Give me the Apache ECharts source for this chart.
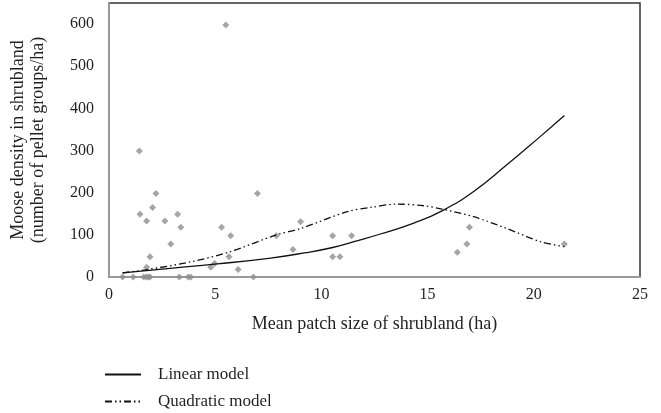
<!DOCTYPE html>
<html>
<head>
<meta charset="utf-8">
<script src="https://cdn.jsdelivr.net/npm/echarts@6/dist/echarts.min.js"></script>
<style>html,body{margin:0;padding:0;background:#fff;}#c{width:661px;height:413px;}</style>
</head>
<body>
<div id="c"></div>
<script>
// Observed data (mean patch size ha, moose density)
const obsX = [0.64,1.14,1.63,1.75,1.85,1.93,3.31,3.73,3.85,6.8,
  1.43,1.46,1.77,1.77,1.93,2.05,2.21,2.63,2.91,3.23,3.38,
  4.79,4.97,5.3,5.5,5.65,5.73,6.08,6.99,7.88,8.66,9.02,
  10.53,10.53,10.87,11.42,16.4,16.85,16.97,21.44];
const obsY = [0,0,0,0,0,0,0,0,0,0,
  299,149,133,23,48,165,198,133,78,149,118,
  23,32,118,598,48,98,18,198,98,65,131,
  98,48,48,98,59,78,118,78];
// Linear model curve
const linX = [0.64,2.76,5.1,7.61,9.18,10.53,11.53,12.78,14.35,15.68,17.17,18.73,20.3,21.44];
const linY = [10,20,31,45,57,70,84,102,128,157,203,266,333,383];
// Quadratic model curve
const quadX = [0.64,1.74,3.85,5.65,7.88,9.02,11.22,12.31,13.57,14.82,15.68,17.17,18.73,20.3,21.44];
const quadY = [10,17,36,59,100,115,155,165,173,169,161,143,115,84,72];
const xTicks = [0,5,10,15,20,25];
const yTicks = [0,100,200,300,400,500,600];

const pairs = (xs, ys) => xs.map((x, i) => [x, ys[i]]);
const serif = "'Liberation Serif','DejaVu Serif',serif";
const txt = '#231f20';

const chart = echarts.init(document.getElementById('c'));
chart.setOption({
  animation: false,
  textStyle: {fontFamily: serif},
  grid: {left: 108, right: 21, top: 3, bottom: 136, show: true, borderColor: '#333', borderWidth: 1.5},
  xAxis: {
    type: 'value', min: xTicks[0], max: xTicks[xTicks.length-1], interval: 5,
    name: 'Mean patch size of shrubland (ha)', nameLocation: 'middle', nameGap: 38,
    nameTextStyle: {fontFamily: serif, fontSize: 18, color: txt},
    axisLine: {show: true, lineStyle: {color: '#999', width: 2}},
    axisTick: {show: false}, splitLine: {show: false},
    axisLabel: {fontFamily: serif, fontSize: 16, color: txt, margin: 10}
  },
  yAxis: {
    type: 'value', min: 0, max: 650, interval: 100,
    name: 'Moose density in shrubland\n(number of pellet groups/ha)', nameLocation: 'middle', nameGap: 61,
    nameTextStyle: {fontFamily: serif, fontSize: 18, color: txt, lineHeight: 20},
    axisLine: {show: true, lineStyle: {color: '#999', width: 2}},
    axisTick: {show: false}, splitLine: {show: false},
    axisLabel: {fontFamily: serif, fontSize: 16, color: txt, margin: 15,
      formatter: v => yTicks.indexOf(v) >= 0 ? String(v) : ''}
  },
  legend: {
    orient: 'vertical', left: 104, top: 366, padding: 0, itemWidth: 36, itemHeight: 14, itemGap: 10,
    itemStyle: {opacity: 0},
    textStyle: {fontFamily: serif, fontSize: 17, color: txt, padding: [0,0,0,12]},
    data: ['Linear model', 'Quadratic model']
  },
  series: [
    {type: 'scatter', name: 'Observed', data: pairs(obsX, obsY), symbol: 'diamond', symbolSize: 7,
     itemStyle: {color: '#8e8e8e'}, z: 2},
    {type: 'line', name: 'Linear model', data: pairs(linX, linY), smooth: 0.5, symbol: 'none',
     itemStyle: {color: '#111'},
     lineStyle: {color: '#111', width: 1.3, type: 'solid'}, z: 3},
    {type: 'line', name: 'Quadratic model', data: pairs(quadX, quadY), smooth: 0.3, symbol: 'none',
     itemStyle: {color: '#111'},
     lineStyle: {color: '#111', width: 1.3, type: [7,3,1.5,3,1.5,3]}, z: 3}
  ]
});
</script>
</body>
</html>
